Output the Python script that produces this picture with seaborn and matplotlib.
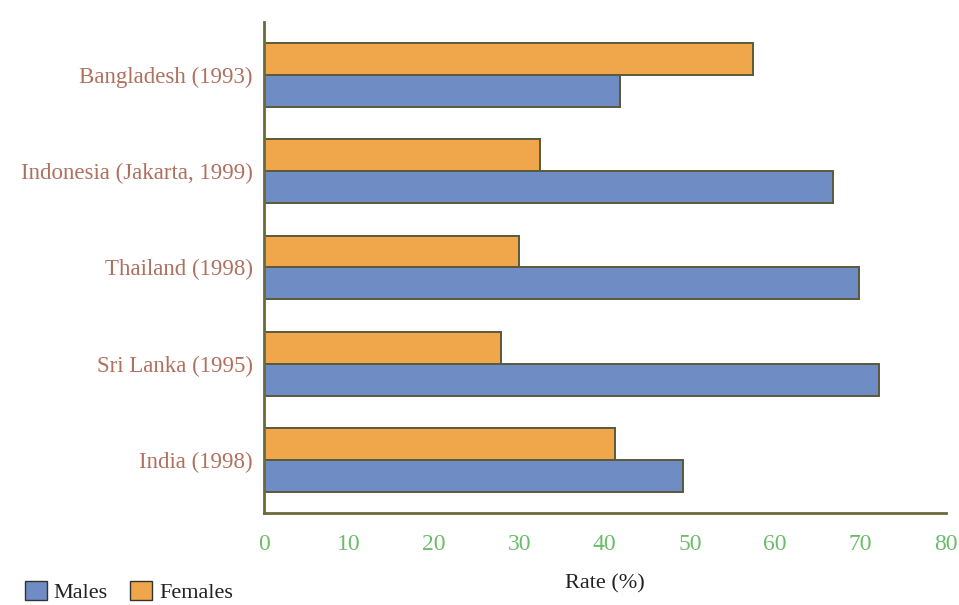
import matplotlib
matplotlib.use("Agg")
import matplotlib.pyplot as plt
from matplotlib.patches import Patch
import seaborn as sns
import pandas as pd

countries = ["Bangladesh (1993)", "Indonesia (Jakarta, 1999)", "Thailand (1998)",
             "Sri Lanka (1995)", "India (1998)"]
males = [41.8, 66.8, 69.8, 72.2, 49.2]
females = [57.4, 32.4, 30.0, 27.8, 41.2]
x_ticks = [0, 10, 20, 30, 40, 50, 60, 70, 80]

df = pd.DataFrame({
    "Country": countries * 2,
    "Sex": ["Females"] * len(countries) + ["Males"] * len(countries),
    "Rate": females + males,
})

sns.set_theme(style="white")
serif = ["Liberation Serif", "DejaVu Serif"]
plt.rcParams["font.family"] = serif

orange = "#f0a64a"
blue = "#6f8cc4"
edge = "#5a5a3a"
label_col = "#b0705e"
tick_col = "#6cbd6a"
axis_col = "#6b6a3a"

fig = plt.figure(figsize=(9.59, 6.05), dpi=100)
ax = fig.add_axes([0.275, 0.152, 0.711, 0.812])

sns.barplot(data=df, y="Country", x="Rate", hue="Sex", hue_order=["Females", "Males"],
            order=countries, orient="h", palette={"Females": orange, "Males": blue},
            width=0.66, gap=0, edgecolor=edge, linewidth=1.4, saturation=1,
            legend=False, ax=ax)

ax.set_xlim(0, 80)
ax.set_ylim(len(countries) - 0.45, -0.55)
ax.set_xticks(x_ticks)
ax.set_xticklabels([str(t) for t in x_ticks], color=tick_col, fontsize=17)
ax.tick_params(axis="x", direction="out", length=5, width=1.5, color=axis_col, pad=10)
ax.tick_params(axis="y", length=0, pad=8)
for lab in ax.get_yticklabels():
    lab.set_color(label_col)
    lab.set_fontsize(16.5)
ax.set_yticks([i + 0.5 for i in range(len(countries) - 1)] + [-0.55], minor=True)
ax.tick_params(axis="y", which="minor", direction="out", length=5, width=1.5, color=axis_col)

ax.set_ylabel("")
ax.set_xlabel("Rate (%)", fontsize=16, color="#222222", labelpad=14)

for side in ["top", "right"]:
    ax.spines[side].set_visible(False)
for side in ["left", "bottom"]:
    ax.spines[side].set_color(axis_col)
    ax.spines[side].set_linewidth(2)

handles = [Patch(facecolor=blue, edgecolor="#333333", label="Males"),
           Patch(facecolor=orange, edgecolor="#333333", label="Females")]
fig.legend(handles=handles, loc="lower left", bbox_to_anchor=(0.005, -0.03), ncol=2,
           frameon=False, fontsize=16, handlelength=1.0, handleheight=1.0,
           handletextpad=0.3, columnspacing=1.0, labelcolor="#222222")

fig.savefig("out.png", dpi=100, facecolor="white")
